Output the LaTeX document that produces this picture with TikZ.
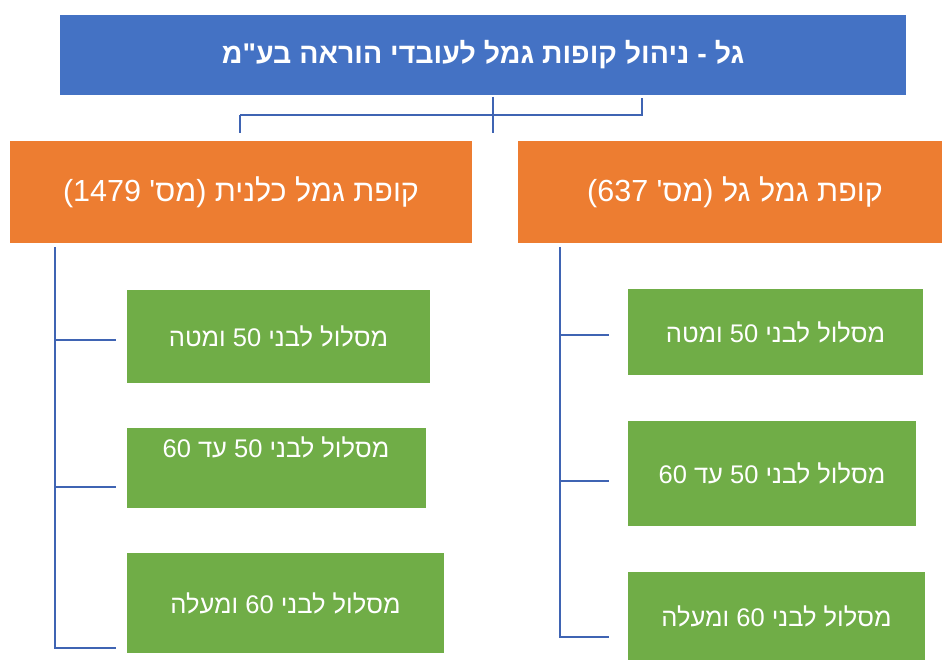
\documentclass[tikz,border=0pt]{standalone}
\usepackage{fontspec}
\setmainfont{Liberation Sans}
\newfontfamily\hebfont[Script=Hebrew]{Liberation Sans}
\TeXXeTstate=1
\definecolor{headblue}{HTML}{4472C4}
\definecolor{fundorange}{HTML}{ED7D31}
\definecolor{trackgreen}{HTML}{70AD47}
\definecolor{linkblue}{HTML}{3F64B3}

\begin{document}
\begin{tikzpicture}[x=1pt,y=-1pt,
    headbox/.style={fill=headblue,text=white,inner sep=0pt,
        font=\hebfont\bfseries\fontsize{28.5}{33}\selectfont},
    fundbox/.style={fill=fundorange,text=white,inner sep=0pt,
        font=\hebfont\fontsize{30.5}{36}\selectfont},
    trackbox/.style={fill=trackgreen,text=white,inner sep=0pt,
        font=\hebfont\fontsize{25.5}{30}\selectfont},
    tracktext/.style={text=white,inner sep=0pt,
        font=\hebfont\fontsize{25.5}{30}\selectfont},
    link/.style={draw=linkblue,line width=2.7pt}]
    \useasboundingbox (0,0) rectangle (942,660);

    % top level
    \node[headbox,minimum width=846pt,minimum height=80pt] (head) at (483,55)
        {\beginR גל - ניהול קופות גמל לעובדי הוראה בע"מ\endR};

    % the two funds
    \node[fundbox,minimum width=462pt,minimum height=102pt] (kalanit) at (241,192)
        {\beginR קופת גמל כלנית (מס' 1479)\endR};
    \node[fundbox,minimum width=424pt,minimum height=102pt] (gal) at (730,192) {};
    \node[fundbox,fill=none] (galtext) at (735,192) {\beginR קופת גמל גל (מס' 637)\endR};

    % tracks of kalanit
    \node[trackbox,minimum width=303pt,minimum height=93pt] (kal1) at (278.5,336.5)
        {\beginR מסלול לבני 50 ומטה\endR};
    \node[trackbox,minimum width=299pt,minimum height=80pt] (kal2) at (276.5,468) {};
    \node[tracktext] (kal2text) at (276,447) {\beginR מסלול לבני 50 עד 60\endR};
    \node[trackbox,minimum width=317pt,minimum height=100pt] (kal3) at (285.5,603)
        {\beginR מסלול לבני 60 ומעלה\endR};

    % tracks of gal
    \node[trackbox,minimum width=295pt,minimum height=86pt] (gal1) at (775.5,332)
        {\beginR מסלול לבני 50 ומטה\endR};
    \node[trackbox,minimum width=288pt,minimum height=105pt] (gal2) at (772,473.5)
        {\beginR מסלול לבני 50 עד 60\endR};
    \node[trackbox,minimum width=297pt,minimum height=88pt] (gal3) at (776.5,616)
        {\beginR מסלול לבני 60 ומעלה\endR};

    % connector under the top box
    \coordinate (hubtop) at (493,97);
    \coordinate (hubbot) at (493,133);
    \coordinate (hubl) at (240,115);
    \coordinate (hubr) at (642,115);
    \draw[link] (hubtop) -- (hubbot);
    \draw[link] (hubl) -- ++(0,18);
    \draw[link] (hubl) -- (hubr) -- ++(0,-17);

    % spine of kalanit
    \coordinate (kaltop) at (55,247);
    \coordinate (kalbot) at (55,648);
    \draw[link] (kaltop) -- (kalbot) -- (116,648);
    \draw[link] (55,340) -- (116,340);
    \draw[link] (55,487) -- (116,487);

    % spine of gal
    \coordinate (galtop) at (560,247);
    \coordinate (galbot) at (560,637);
    \draw[link] (galtop) -- (galbot) -- (609,637);
    \draw[link] (560,335) -- (609,335);
    \draw[link] (560,481) -- (609,481);
\end{tikzpicture}
\end{document}
